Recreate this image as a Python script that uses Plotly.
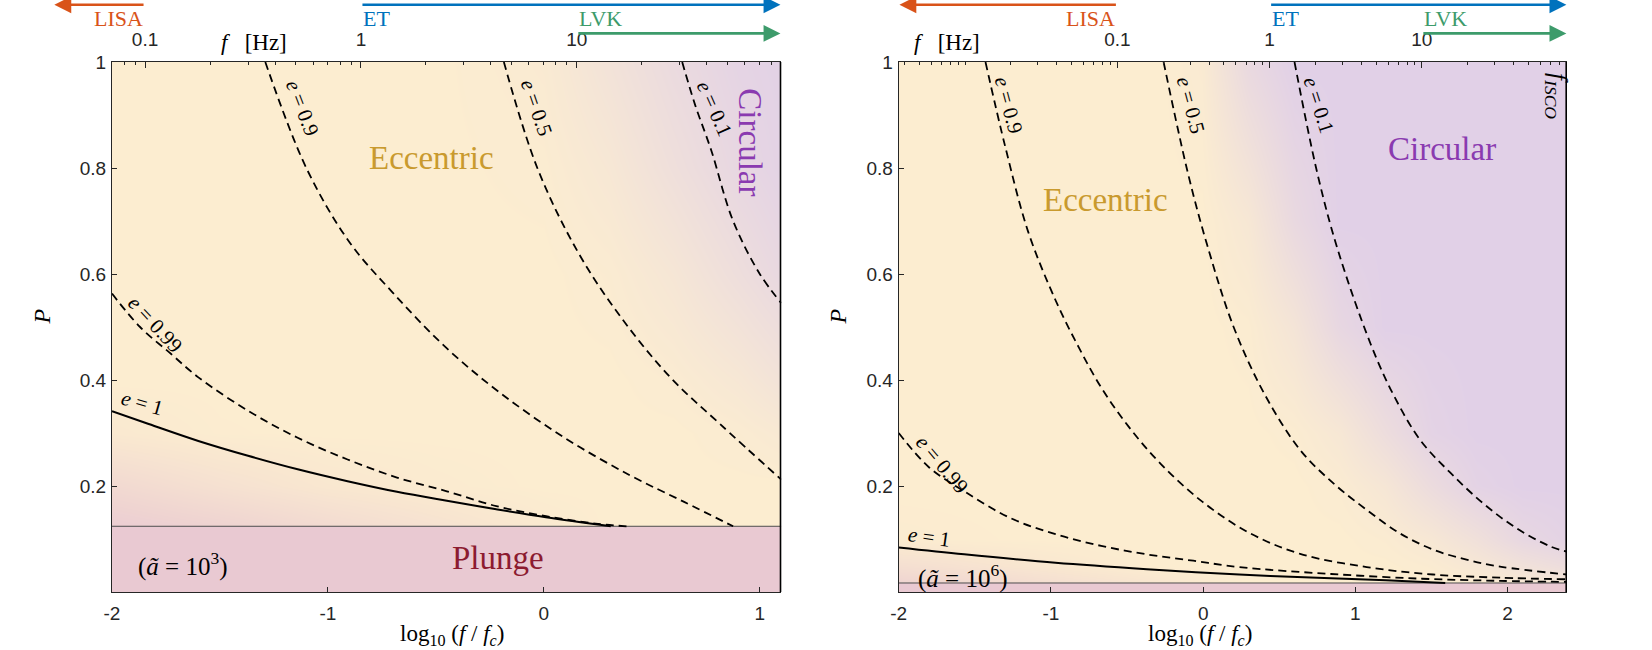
import math
import plotly.graph_objects as go

# --- panel geometry in data units: x = log10(f/fc), y = P ---
x_min = -2.0
x_isco = [1.1, 2.39]          # right edge of each panel (f_ISCO line)
fc_hz = [7.03, 0.366]         # f_c of each panel, for the top Hz axis
plunge_P = [0.124, 0.017]     # plunge boundary
a_text = ["10<sup>3</sup>", "10<sup>6</sup>"]

# detector bands [Hz]
lisa_max = 0.1
et_min = 1.0
lvk_min = 10.0
lisa_tip = [0.038, 0.0037]    # where the LISA arrow ends in each panel

# --- left panel, a = 1e3: constant-e curves ---
L_e01_x = [0.641, 0.70, 0.775, 0.875, 0.999, 1.1]
L_e01_P = [1.0, 0.92, 0.834, 0.702, 0.601, 0.545]
L_e05_x = [-0.185, -0.03, 0.16, 0.356, 0.586, 0.816, 1.1]
L_e05_P = [1.0, 0.80, 0.64, 0.519, 0.405, 0.317, 0.212]
L_e09_x = [-1.29, -1.10, -0.90, -0.70, -0.45, -0.20, 0.10, 0.40, 0.65, 0.877]
L_e09_P = [1.0, 0.80, 0.66, 0.565, 0.46, 0.375, 0.29, 0.22, 0.17, 0.124]
L_e099_x = [-2.0, -1.87, -1.726, -1.6, -1.37, -1.14, -0.909, -0.68, -0.449, -0.22, 0.01, 0.24, 0.383]
L_e099_P = [0.563, 0.50, 0.449, 0.405, 0.342, 0.291, 0.250, 0.216, 0.190, 0.162, 0.143, 0.129, 0.124]
L_e1_x = [-2.0, -1.83, -1.6, -1.37, -1.14, -0.909, -0.68, -0.449, -0.22, 0.01, 0.31]
L_e1_P = [0.341, 0.317, 0.285, 0.257, 0.2315, 0.209, 0.189, 0.172, 0.156, 0.141, 0.124]

# --- right panel, a = 1e6 ---
R_e01_x = [0.60, 0.75, 0.885, 1.1, 1.25, 1.425, 1.62, 1.84, 2.06, 2.28, 2.39]
R_e01_P = [1.0, 0.79, 0.645, 0.468, 0.372, 0.287, 0.226, 0.167, 0.120, 0.086, 0.076]
R_e05_x = [-0.26, -0.1, 0.026, 0.2, 0.4, 0.637, 0.856, 1.074, 1.29, 1.51, 1.73, 1.95, 2.39]
R_e05_P = [1.0, 0.79, 0.655, 0.50, 0.375, 0.268, 0.205, 0.155, 0.111, 0.080, 0.061, 0.048, 0.033]
R_e09_x = [-1.43, -1.30, -1.15, -0.969, -0.818, -0.668, -0.487, -0.276, -0.004, 0.3, 0.637, 1.074, 1.51, 1.95, 2.39]
R_e09_P = [1.0, 0.84, 0.68, 0.55, 0.462, 0.385, 0.311, 0.241, 0.170, 0.112, 0.072, 0.047, 0.033, 0.027, 0.024]
R_e099_x = [-2.0, -1.8, -1.57, -1.27, -0.97, -0.67, -0.37, -0.065, 0.237, 0.84, 1.44, 1.95, 2.39]
R_e099_P = [0.30, 0.235, 0.19, 0.14, 0.109, 0.087, 0.071, 0.059, 0.047, 0.034, 0.025, 0.021, 0.019]
R_e1_x = [-2.0, -1.57, -0.97, -0.37, 0.237, 0.84, 1.2, 1.59]
R_e1_P = [0.084, 0.071, 0.055, 0.043, 0.033, 0.026, 0.022, 0.017]

# --- background shading, 0 = plunge, 0.5 = eccentric, 1 = circular ---
L_bg_x = [-2.0, -1.5, -1.0, -0.5, 0.0, 0.3, 0.6, 0.9, 1.1]
L_bg_P = [0.124, 0.2, 0.3, 0.4, 0.6, 0.8, 1.0]
L_bg_z = [
    [0.06, 0.14, 0.25, 0.35, 0.45, 0.50, 0.50, 0.50, 0.50],
    [0.22, 0.33, 0.42, 0.47, 0.50, 0.50, 0.50, 0.50, 0.50],
    [0.44, 0.49, 0.50, 0.50, 0.50, 0.50, 0.50, 0.53, 0.57],
    [0.50, 0.50, 0.50, 0.50, 0.50, 0.50, 0.53, 0.60, 0.68],
    [0.50, 0.50, 0.50, 0.50, 0.50, 0.53, 0.62, 0.76, 0.86],
    [0.50, 0.50, 0.50, 0.50, 0.52, 0.60, 0.74, 0.88, 0.95],
    [0.50, 0.50, 0.50, 0.50, 0.55, 0.68, 0.82, 0.93, 0.97],
]
R_bg_x = [-2.0, -1.0, -0.3, 0.0, 0.3, 0.6, 0.9, 1.2, 1.5, 1.8, 2.1, 2.39]
R_bg_P = [0.017, 0.05, 0.1, 0.2, 0.3, 0.5, 0.7, 1.0]
R_bg_z = [
    [0.15, 0.30, 0.40, 0.45, 0.50, 0.50, 0.50, 0.50, 0.50, 0.52, 0.58, 0.62],
    [0.30, 0.42, 0.50, 0.50, 0.50, 0.50, 0.50, 0.50, 0.53, 0.60, 0.70, 0.78],
    [0.48, 0.50, 0.50, 0.50, 0.50, 0.50, 0.50, 0.53, 0.60, 0.72, 0.88, 0.95],
    [0.50, 0.50, 0.50, 0.50, 0.50, 0.50, 0.53, 0.62, 0.80, 0.95, 1.00, 1.00],
    [0.50, 0.50, 0.50, 0.50, 0.50, 0.52, 0.60, 0.78, 0.95, 1.00, 1.00, 1.00],
    [0.50, 0.50, 0.50, 0.50, 0.52, 0.65, 0.88, 1.00, 1.00, 1.00, 1.00, 1.00],
    [0.50, 0.50, 0.50, 0.50, 0.60, 0.85, 1.00, 1.00, 1.00, 1.00, 1.00, 1.00],
    [0.50, 0.50, 0.50, 0.55, 0.85, 1.00, 1.00, 1.00, 1.00, 1.00, 1.00, 1.00],
]

PINK = "#E9C9D2"
YELLOW = "#FCEDD0"
PURPLE = "#E1D0E7"
AXC = "#262626"
SERIF = "Liberation Serif"
SANS = "Liberation Sans"

fig = go.Figure()

panels = [
    dict(xa="x", ya="y", tx="x3", bg=(L_bg_x, L_bg_P, L_bg_z),
         curves=[(L_e01_x, L_e01_P, "dash"), (L_e05_x, L_e05_P, "dash"),
                 (L_e09_x, L_e09_P, "dash"), (L_e099_x, L_e099_P, "dash"),
                 (L_e1_x, L_e1_P, "solid")]),
    dict(xa="x2", ya="y2", tx="x4", bg=(R_bg_x, R_bg_P, R_bg_z),
         curves=[(R_e01_x, R_e01_P, "dash"), (R_e05_x, R_e05_P, "dash"),
                 (R_e09_x, R_e09_P, "dash"), (R_e099_x, R_e099_P, "dash"),
                 (R_e1_x, R_e1_P, "solid")]),
]

for i, p in enumerate(panels):
    bx, bp, bz = p["bg"]
    fig.add_trace(go.Heatmap(
        x=bx, y=bp, z=bz, zmin=0, zmax=1, zsmooth="best", showscale=False,
        colorscale=[[0, PINK], [0.5, YELLOW], [1, PURPLE]], hoverinfo="skip",
        xaxis=p["xa"], yaxis=p["ya"]))
    # plunge region
    fig.add_trace(go.Scatter(
        x=[x_min, x_isco[i], x_isco[i], x_min, x_min],
        y=[0, 0, plunge_P[i], plunge_P[i], 0],
        fill="toself", fillcolor=PINK, mode="lines", line=dict(width=0),
        hoverinfo="skip", showlegend=False, xaxis=p["xa"], yaxis=p["ya"]))
    fig.add_trace(go.Scatter(
        x=[x_min, x_isco[i]], y=[plunge_P[i], plunge_P[i]], mode="lines",
        line=dict(color="#4d4d4d", width=1), hoverinfo="skip",
        showlegend=False, xaxis=p["xa"], yaxis=p["ya"]))
    for cx, cp, dash in p["curves"]:
        fig.add_trace(go.Scatter(
            x=cx, y=cp, mode="lines",
            line=dict(color="black", width=2 if dash == "solid" else 1.8,
                      dash="solid" if dash == "solid" else "8px,5px",
                      shape="spline", smoothing=1.0),
            hoverinfo="skip", showlegend=False, xaxis=p["xa"], yaxis=p["ya"]))
    # f_ISCO line
    fig.add_trace(go.Scatter(
        x=[x_isco[i], x_isco[i]], y=[0, 1], mode="lines",
        line=dict(color="black", width=3.2), hoverinfo="skip",
        showlegend=False, xaxis=p["xa"], yaxis=p["ya"]))
    # dummy trace so the top Hz axis is drawn
    fig.add_trace(go.Scatter(
        x=[lisa_max, et_min, lvk_min], y=[-1, -1, -1], mode="markers",
        marker=dict(opacity=0), hoverinfo="skip", showlegend=False,
        xaxis=p["tx"], yaxis=p["ya"]))

tick_font = dict(family=SANS, size=19, color=AXC)
minor_hz = [k * 10.0 ** d for d in range(-3, 2) for k in range(1, 10) if k > 1 or d == -2]


def bottom_axis(domain, xmax):
    return dict(domain=domain, range=[x_min, xmax], tickvals=[-2, -1, 0, 1, 2],
                ticktext=["-2", "-1", "0", "1", "2"], ticks="inside", ticklen=5,
                tickcolor=AXC, showline=True, linecolor=AXC, linewidth=1.2,
                showgrid=False, zeroline=False, tickfont=tick_font,
                ticklabelstandoff=4)


def top_axis(over, fc, xmax):
    lo = math.log10(fc) + x_min
    hi = math.log10(fc) + xmax
    return dict(overlaying=over, side="top", anchor="y" if over == "x" else "y2",
                type="log", range=[lo, hi], tickvals=[0.1, 1, 10],
                ticktext=["0.1", "1", "10"], ticks="inside", ticklen=6,
                tickcolor=AXC, showline=True, linecolor=AXC, linewidth=1.2,
                showgrid=False, zeroline=False, tickfont=tick_font,
                ticklabelstandoff=7,
                minor=dict(tickvals=minor_hz, ticks="inside", ticklen=3,
                           tickcolor=AXC, showgrid=False))


def left_axis(anchor):
    return dict(domain=[0, 1], range=[0, 1], anchor=anchor,
                tickvals=[0.2, 0.4, 0.6, 0.8, 1], ticktext=["0.2", "0.4", "0.6", "0.8", "1"],
                ticks="inside", ticklen=5, tickcolor=AXC, showline=True,
                linecolor=AXC, linewidth=1.2, showgrid=False, zeroline=False,
                tickfont=tick_font, ticklabelstandoff=1)


ann = []


def label(text, x, y, xref, yref, size, color="black", angle=0, **kw):
    d = dict(text=text, x=x, y=y, xref=xref, yref=yref, showarrow=False,
             textangle=angle, xanchor="center", yanchor="middle",
             font=dict(family=SERIF, size=size, color=color))
    d.update(kw)
    ann.append(d)


def arrow(tx, head_hz, tail_hz, y, color):
    ann.append(dict(x=math.log10(head_hz), y=y, xref=tx, yref="paper",
                    ax=math.log10(tail_hz), ay=0, axref=tx, ayref="pixel",
                    text="", showarrow=True, arrowhead=2, arrowsize=1.3,
                    arrowwidth=2.6, arrowcolor=color, standoff=0, startstandoff=0))


LISA_C, ET_C, LVK_C = "#D95319", "#0072BD", "#3D9B6B"
for i, tx in enumerate(["x3", "x4"]):
    edge_hz = fc_hz[i] * 10 ** (x_isco[i] - 0.004)
    arrow(tx, lisa_tip[i], lisa_max, 1.108, LISA_C)
    arrow(tx, edge_hz, et_min, 1.108, ET_C)
    arrow(tx, edge_hz, lvk_min, 1.054, LVK_C)
    label("LISA", math.log10(lisa_max), 1.083, tx, "paper", 22, LISA_C, xanchor="right")
    label("ET", math.log10(et_min), 1.083, tx, "paper", 22, ET_C, xanchor="left")
    label("LVK", math.log10(lvk_min), 1.083, tx, "paper", 22, LVK_C, xanchor="left")

# frequency axis titles
label("<i>f</i>   [Hz]", -1.344, 1.036, "x", "paper", 23)
label("<i>f</i>   [Hz]", -1.685, 1.036, "x2", "paper", 23)

# axis titles
for px, lx in [(-0.048, 0.234), (0.499, 0.748)]:
    label("<i>P</i>", px, 0.52, "paper", "paper", 24, angle=-90)
    label("log<sub>10</sub> (<i>f</i> / <i>f<sub>c</sub></i>)", lx, -0.081,
          "paper", "paper", 23)

# left panel texts
label("Eccentric", -0.52, 0.818, "x", "y", 33, "#C99A2E")
label("Circular", 0.956, 0.848, "x", "y", 33, "#8A3AB0", angle=90)
label("Plunge", -0.21, 0.064, "x", "y", 33, "#8C1B30")
label("(<i>ã</i> = " + a_text[0] + ")", -1.67, 0.051, "x", "y", 25)
label("<i>e</i> = 0.9", -1.163, 0.914, "x", "y", 21, angle=69, xshift=10)
label("<i>e</i> = 0.5", -0.078, 0.914, "x", "y", 21, angle=71, xshift=10)
label("<i>e</i> = 0.1", 0.744, 0.911, "x", "y", 21, angle=66, xshift=10)
label("<i>e</i> = 0.99", -1.825, 0.513, "x", "y", 21, angle=47, xshift=5, yshift=-4)
label("<i>e</i> = 1", -1.862, 0.341, "x", "y", 21, angle=16, yshift=8)

# right panel texts
label("Eccentric", -0.64, 0.739, "x2", "y2", 33, "#C99A2E")
label("Circular", 1.57, 0.836, "x2", "y2", 33, "#8A3AB0")
label("(<i>ã</i> = " + a_text[1] + ")", -1.58, 0.030, "x2", "y2", 25)
label("<i>f<sub>ISCO</sub></i>", 2.32, 0.935, "x2", "y2", 25, angle=90)
label("<i>e</i> = 0.9", -1.35, 0.919, "x2", "y2", 21, angle=75, xshift=11)
label("<i>e</i> = 0.5", -0.154, 0.919, "x2", "y2", 21, angle=75, xshift=11)
label("<i>e</i> = 0.1", 0.687, 0.919, "x2", "y2", 21, angle=72, xshift=11)
label("<i>e</i> = 0.99", -1.75, 0.249, "x2", "y2", 21, angle=50, xshift=5, yshift=-4)
label("<i>e</i> = 1", -1.80, 0.084, "x2", "y2", 21, angle=8, yshift=10)

fig.update_layout(
    width=1652, height=650,
    margin=dict(l=112, r=85, t=62, b=58),
    paper_bgcolor="white", plot_bgcolor="white",
    showlegend=False,
    xaxis=bottom_axis([0, 0.46], x_isco[0]),
    xaxis2=dict(bottom_axis([0.5407, 1], x_isco[1]), anchor="y2"),
    xaxis3=top_axis("x", fc_hz[0], x_isco[0]),
    xaxis4=top_axis("x2", fc_hz[1], x_isco[1]),
    yaxis=left_axis("x"),
    yaxis2=left_axis("x2"),
    annotations=ann,
)

# drop the page's default 8px body margin so the figure sits at the window's corner
fig.write_html("out.html", config={"displayModeBar": False},
               post_script="document.body.style.margin='0';")
